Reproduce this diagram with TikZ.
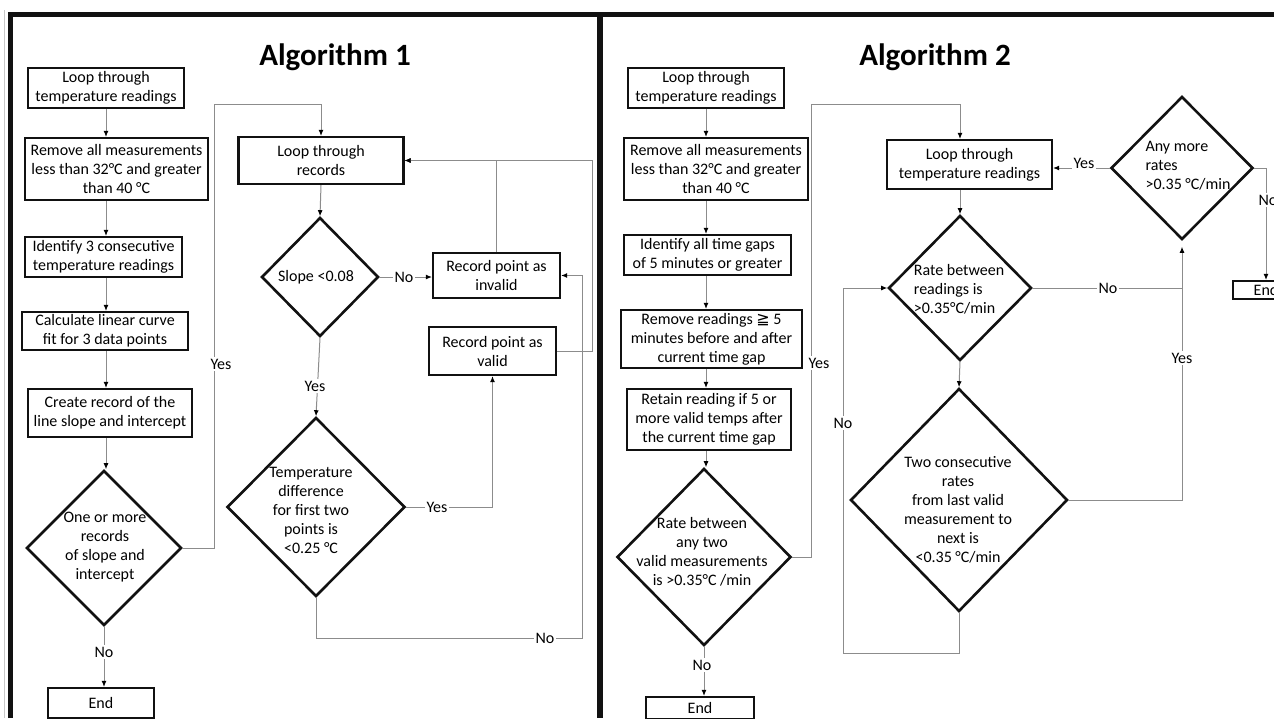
\documentclass[tikz,border=0pt]{standalone}
\usepackage{fontspec}
\setmainfont{Carlito}
\newfontfamily\symfont{DejaVu Sans}
\usetikzlibrary{arrows.meta,shapes.geometric}
\definecolor{Ink}{HTML}{111111}
\definecolor{Wire}{HTML}{8C8C8C}
\definecolor{Edge}{HTML}{C8C8C8}
\newcommand{\boxfont}{\fontsize{16}{19}\selectfont}
\tikzset{
  stepbox/.style={draw=Ink,line width=2.2pt,inner sep=1pt,align=center,font=\boxfont},
  decision/.style={diamond,draw=Ink,line width=2.6pt,inner sep=0pt},
  decisiontext/.style={align=center,inner sep=0pt,font=\boxfont},
  flowarrow/.style={-{Latex[length=6pt,width=5pt,color=black]},line width=1pt,draw=Wire},
  flowline/.style={line width=1pt,draw=Wire},
  edgelabel/.style={fill=white,inner sep=1.5pt,font=\boxfont},
  heading/.style={anchor=base,font=\fontsize{31}{36}\selectfont\bfseries},
}

\begin{document}
\begin{tikzpicture}[x=1pt,y=-1pt]
    \useasboundingbox (0,0) rectangle (1274,718);
    \clip (0,0) rectangle (1274,718);
    \fill[white] (0,0) rectangle (1274,718);

    % frame
    \draw[Edge,line width=0.8pt] (4.5,10) -- (4.5,718);
    \draw[Ink,line width=4.5pt] (10.5,718) -- (10.5,14.5) -- (1274,14.5);
    \draw[Ink,line width=6pt] (600,14.5) -- (600,718);

    % Algorithm 1
    \node[heading] (headA) at (335,65) {Algorithm 1};

    \node[stepbox,minimum width=156,minimum height=40] (loopA) at (106,88) {Loop through\\temperature readings};
    \node[stepbox,minimum width=183,minimum height=62] (trimA) at (116.5,169) {Remove all measurements\\less than 32°C and greater\\than 40 °C};
    \node[stepbox,minimum width=157,minimum height=40] (tripleA) at (103.5,257) {Identify 3 consecutive\\temperature readings};
    \node[stepbox,minimum width=166,minimum height=38] (fitA) at (105,331) {Calculate linear curve\\fit for 3 data points};
    \node[stepbox,minimum width=164,minimum height=48] (recA) at (110,413) {Create record of the\\line slope and intercept};
    \node[decision,minimum width=155,minimum height=155] (anyA) at (104,548) {};
    \node[decisiontext] (anyAtext) at (105,547) {One or more\\records\\of slope and\\intercept};
    \node[stepbox,minimum width=106,minimum height=30] (endA) at (101,703) {End};

    \node[stepbox,minimum width=165,minimum height=47] (loopB) at (321,160.5) {Loop through\\records};
    \node[decision,minimum width=117,minimum height=119] (slopeB) at (320,277) {};
    \node[decisiontext] (slopeBtext) at (316,277) {Slope <0.08};
    \node[stepbox,minimum width=127,minimum height=45] (invB) at (496.5,275.5) {Record point as\\invalid};
    \node[stepbox,minimum width=127,minimum height=48] (valB) at (492.5,351) {Record point as\\valid};
    \node[decision,minimum width=178,minimum height=179] (diffB) at (316,507) {};
    \node[decisiontext] (diffBtext) at (311,510) {Temperature\\difference\\for first two\\points is\\<0.25 °C};

    \coordinate (yesA) at (214,104);
    \coordinate (noB) at (582,638);
    \coordinate (backB) at (592,160.5);

    \foreach \a/\b in {loopA/trimA,trimA/tripleA,tripleA/fitA,fitA/recA,recA/anyA}
      \draw[flowarrow] (loopA.south |- \a.south) -- (loopA.south |- \b.north);
    \draw[flowarrow] (anyA.south) -- (anyA.south |- endA.north);
    \draw[flowarrow] (anyA.east) -| (yesA) -| (loopB.north);
    \draw[flowarrow] (loopB.south) -- (slopeB.north);
    \draw[flowarrow] (slopeB.east) -- (slopeB.east -| invB.west);
    \draw[flowarrow] (slopeB.south) -- (diffB.north);
    \draw[flowarrow] (diffB.east) -| (valB.south);
    \draw[flowarrow] (diffB.south) |- (noB) |- (invB.east);
    \draw[flowarrow] (invB.north) |- (loopB.east);
    \draw[flowarrow] (valB.east) -| (backB) -- (loopB.east);

    \node[edgelabel] (noAlbl) at (104,652) {No};
    \node[edgelabel] (yesAlbl) at (221,364) {Yes};
    \node[edgelabel] (noSlbl) at (404,277) {No};
    \node[edgelabel] (yesSlbl) at (315,386) {Yes};
    \node[edgelabel] (yesDlbl) at (437,507) {Yes};
    \node[edgelabel] (noDlbl) at (545,638) {No};

    % Algorithm 2
    \node[heading] (headC) at (935,65) {Algorithm 2};

    \node[stepbox,minimum width=156,minimum height=40] (loopC) at (706,88) {Loop through\\temperature readings};
    \node[stepbox,minimum width=184,minimum height=62] (trimC) at (716,169) {Remove all measurements\\less than 32°C and greater\\than 40 °C};
    \node[stepbox,minimum width=167,minimum height=40] (gapC) at (707.5,255) {Identify all time gaps\\of 5 minutes or greater};
    \node[stepbox,minimum width=181,minimum height=58] (cutC) at (711.5,339) {Remove readings {\symfont ≧} 5\\minutes before and after\\current time gap};
    \node[stepbox,minimum width=164,minimum height=61] (keepC) at (709,419.5) {Retain reading if 5 or\\more valid temps after\\the current time gap};
    \node[decision,minimum width=174,minimum height=177] (rateC) at (704,557) {};
    \node[decisiontext] (rateCtext) at (702,552) {Rate between\\any two\\valid measurements\\is >0.35°C /min};
    \node[stepbox,minimum width=108,minimum height=22] (endC) at (700,708) {End};

    \node[stepbox,minimum width=165,minimum height=49] (loopD) at (969.5,164.5) {Loop through\\temperature readings};
    \node[decision,minimum width=143,minimum height=145] (rateD) at (960,288) {};
    \node[decisiontext,align=left] (rateDtext) at (959,289) {Rate between\\readings is\\>0.35°C/min};
    \node[decision,minimum width=217,minimum height=223] (twoD) at (959,500) {};
    \node[decisiontext] (twoDtext) at (958,510) {Two consecutive\\rates\\from last valid\\measurement to\\next is\\<0.35 °C/min};
    \node[decision,minimum width=142,minimum height=143] (moreD) at (1182,168) {};
    \node[decisiontext,align=left] (moreDtext) at (1188,166) {Any more\\rates\\>0.35 °C/min};
    \node[stepbox,minimum width=66,minimum height=18] (endD) at (1266,290) {End};

    \coordinate (yesC) at (811,104);
    \coordinate (noE) at (843,653);

    \foreach \a/\b in {loopC/trimC,trimC/gapC,gapC/cutC,cutC/keepC,keepC/rateC}
      \draw[flowarrow] (loopC.south |- \a.south) -- (loopC.south |- \b.north);
    \draw[flowarrow] (rateC.south) -- (rateC.south |- endC.north);
    \draw[flowarrow] (rateC.east) -| (yesC) -| (rateD.north |- loopD.north);
    \draw[flowarrow] (rateD.north |- loopD.south) -- (rateD.north);
    \draw[flowarrow] (rateD.south) -- (twoD.north);
    \draw[flowarrow] (twoD.south) |- (noE) |- (rateD.west);
    \draw[flowline] (rateD.east) -- (rateD.east -| moreD.south);
    \draw[flowarrow,shorten >=6pt] (twoD.east) -| (moreD.south);
    \draw[flowarrow] (moreD.west) -- (moreD.west -| loopD.east);
    \draw[flowarrow] (moreD.east) -| (endD.north);

    \node[edgelabel] (noClbl) at (702,665) {No};
    \node[edgelabel] (yesClbl) at (819,363) {Yes};
    \node[edgelabel] (noElbl) at (843,423) {No};
    \node[edgelabel] (noRlbl) at (1108,288) {No};
    \node[edgelabel] (yesTlbl) at (1182,358) {Yes};
    \node[edgelabel] (yesMlbl) at (1084,163) {Yes};
    \node[edgelabel] (noMlbl) at (1268,200) {No};
\end{tikzpicture}
\end{document}
